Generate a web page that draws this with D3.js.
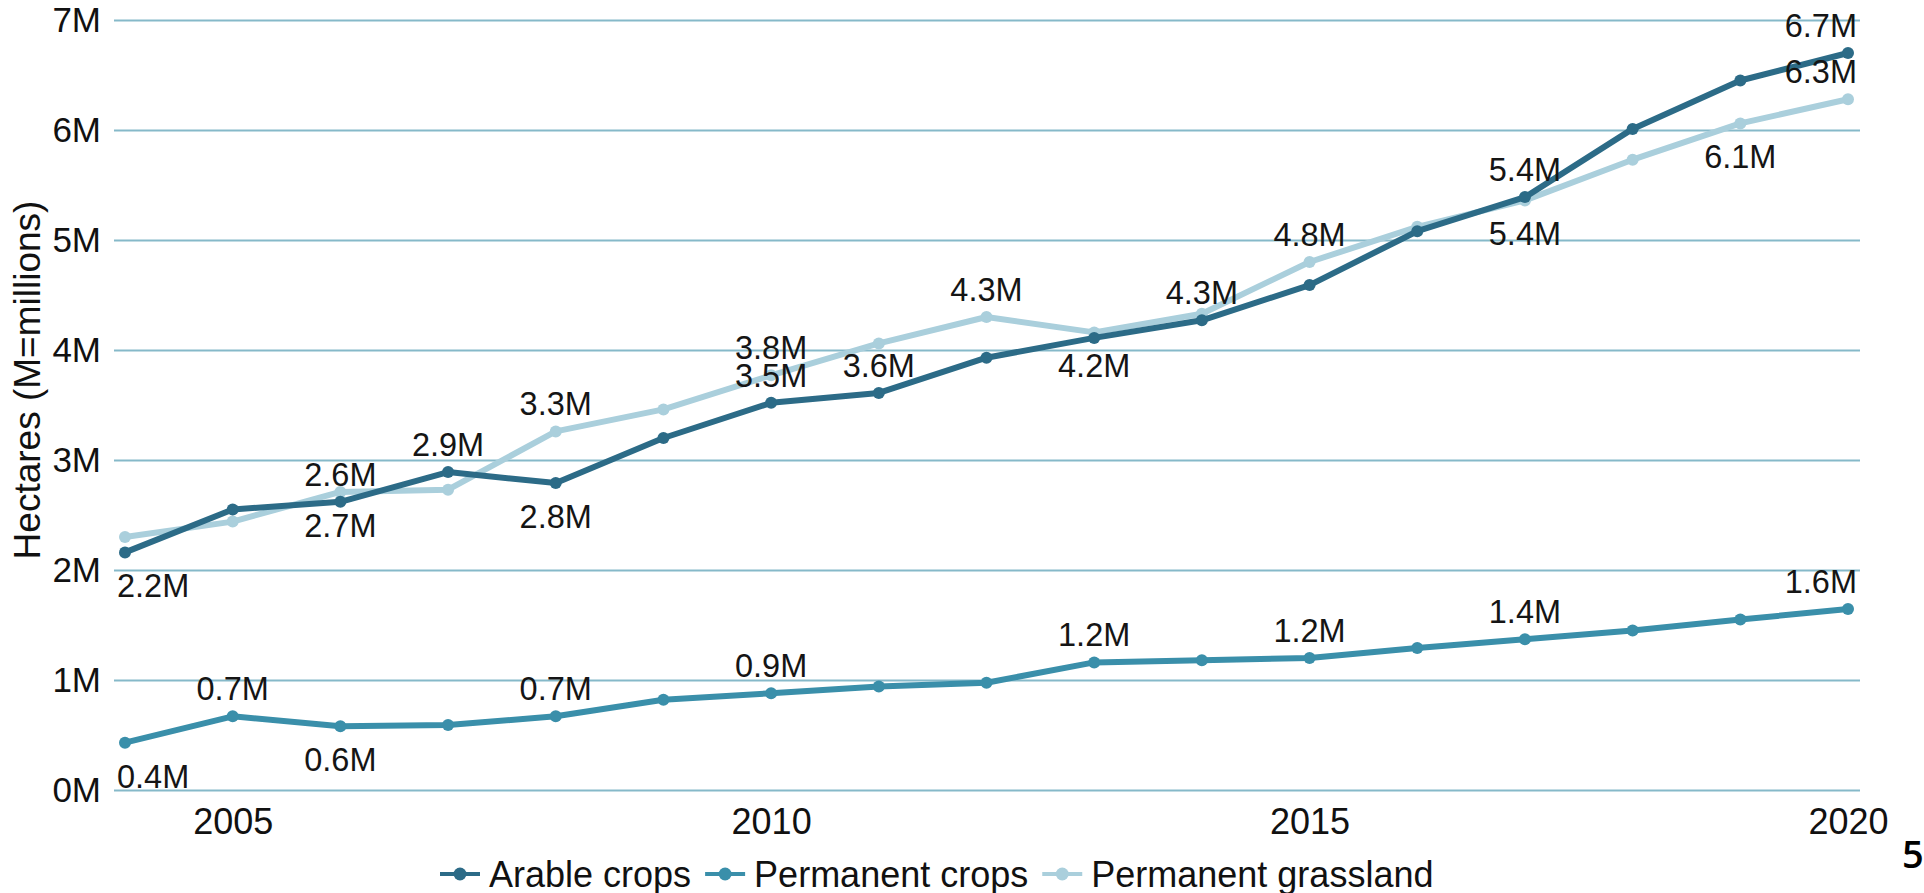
<!DOCTYPE html>
<html>
<head>
<meta charset="utf-8">
<script src="https://cdn.jsdelivr.net/npm/d3@7"></script>
<style>
  body { margin: 0; background: #fff; }
  svg { display: block; font-family: "Liberation Sans", Arial, sans-serif; }
</style>
</head>
<body>
<script>
// values in millions of hectares
var years = [2004, 2005, 2006, 2007, 2008, 2009, 2010, 2011, 2012, 2013, 2014, 2015, 2016, 2017, 2018, 2019, 2020];
var arable = [2.16, 2.55, 2.62, 2.89, 2.79, 3.20, 3.52, 3.61, 3.93, 4.11, 4.27, 4.59, 5.08, 5.39, 6.01, 6.45, 6.70];
var permanent = [0.43, 0.67, 0.58, 0.59, 0.67, 0.82, 0.88, 0.94, 0.975, 1.16, 1.18, 1.20, 1.29, 1.37, 1.45, 1.55, 1.645];
var grassland = [2.30, 2.44, 2.71, 2.73, 3.26, 3.46, 3.77, 4.06, 4.30, 4.16, 4.33, 4.80, 5.12, 5.36, 5.73, 6.06, 6.28];

var seriesNames = ["Arable crops", "Permanent crops", "Permanent grassland"];
var yTicks = [0, 1, 2, 3, 4, 5, 6, 7];
var xTicks = [2005, 2010, 2015, 2020];

// which points carry a value label, and on which side
var arableLabelYears = [2004, 2006, 2007, 2008, 2010, 2011, 2014, 2017, 2020];
var arableLabelSide = ["below", "above", "above", "below", "above", "above", "above", "above", "above"];
var permLabelYears = [2004, 2005, 2006, 2008, 2010, 2013, 2015, 2017, 2020];
var permLabelSide = ["below", "above", "below", "above", "above", "above", "above", "above", "above"];
var grassLabelYears = [2006, 2008, 2010, 2012, 2013, 2015, 2017, 2019, 2020];
var grassLabelSide = ["below", "above", "above", "above", "below", "above", "below", "below", "above"];

var W = 1924, H = 893;
var gridLeft = 114, gridRight = 1860;

var svg = d3.select("body").append("svg")
    .attr("width", W)
    .attr("height", H);

var x = d3.scaleLinear().domain([2004, 2020]).range([125, 1848]);
var y = d3.scaleLinear().domain([0, 7]).range([790, 20]);

var colors = ["#2c6b87", "#3a8faa", "#aacfdc"];

// gridlines + y labels
var yAxis = svg.append("g")
    .attr("transform", "translate(" + gridLeft + ",0)")
    .call(d3.axisLeft(y)
        .tickValues(yTicks)
        .tickSize(-(gridRight - gridLeft))
        .tickPadding(13)
        .tickFormat(function(d) { return d + "M"; }));
yAxis.select(".domain").remove();
yAxis.selectAll("line").attr("stroke", "#86b9c9").attr("stroke-width", 2);
yAxis.selectAll("text").attr("fill", "#111").style("font-size", "35px");

var xAxis = svg.append("g")
    .attr("transform", "translate(0,790)")
    .call(d3.axisBottom(x)
        .tickValues(xTicks)
        .tickSize(0)
        .tickPadding(18)
        .tickFormat(d3.format("d")));
xAxis.select(".domain").remove();
xAxis.selectAll("text").attr("fill", "#111").style("font-size", "36px");

svg.append("text")
    .attr("transform", "translate(27,380) rotate(-90)")
    .attr("text-anchor", "middle")
    .attr("dominant-baseline", "central")
    .style("font-size", "37px")
    .attr("fill", "#111")
    .text("Hectares (M=millions)");

var series = [
  { name: seriesNames[0], values: arable, color: colors[0], ly: arableLabelYears, ls: arableLabelSide },
  { name: seriesNames[1], values: permanent, color: colors[1], ly: permLabelYears, ls: permLabelSide },
  { name: seriesNames[2], values: grassland, color: colors[2], ly: grassLabelYears, ls: grassLabelSide }
];

var line = d3.line()
    .x(function(d, i) { return x(years[i]); })
    .y(function(d) { return y(d); });

// grassland underneath, then arable, then permanent
[2, 0, 1].forEach(function(k) {
  var s = series[k];
  svg.append("path")
      .datum(s.values)
      .attr("fill", "none")
      .attr("stroke", s.color)
      .attr("stroke-width", 6)
      .attr("stroke-linejoin", "round")
      .attr("d", line);
  svg.selectAll(null)
      .data(s.values)
    .enter().append("circle")
      .attr("cx", function(d, i) { return x(years[i]); })
      .attr("cy", function(d) { return y(d); })
      .attr("r", 6)
      .attr("fill", s.color);
});

var f1 = d3.format(".1f");

series.forEach(function(s) {
  s.ly.forEach(function(yr, j) {
    var v = s.values[years.indexOf(yr)];
    var t = svg.append("text")
        .attr("text-anchor", "middle")
        .attr("fill", "#151515")
        .style("font-size", "32.5px")
        .attr("y", s.ls[j] == "above" ? y(v) - 16 : y(v) + 45)
        .text(f1(v) + "M");
    var w = t.node().getComputedTextLength();
    var cx = Math.max(117 + w / 2, Math.min(1857 - w / 2, x(yr)));
    t.attr("x", cx);
  });
});

// legend
var legend = svg.append("g");
var lx = 440;
series.forEach(function(s) {
  var g = legend.append("g").attr("transform", "translate(" + lx + ",874)");
  g.append("line").attr("x1", 0).attr("x2", 40).attr("y1", 0).attr("y2", 0)
      .attr("stroke", s.color).attr("stroke-width", 4);
  g.append("circle").attr("cx", 20).attr("cy", 0).attr("r", 6.5).attr("fill", s.color);
  var t = g.append("text")
      .attr("x", 49)
      .attr("dominant-baseline", "central")
      .attr("fill", "#111")
      .style("font-size", "36px")
      .text(s.name);
  lx += 49 + t.node().getComputedTextLength() + 14;
});

svg.append("text")
    .attr("x", 1902)
    .attr("y", 868)
    .attr("fill", "#000")
    .style("font-family", "'Open Sans', sans-serif")
    .style("font-weight", 600)
    .style("font-size", "38px")
    .text("5");
</script>
</body>
</html>
